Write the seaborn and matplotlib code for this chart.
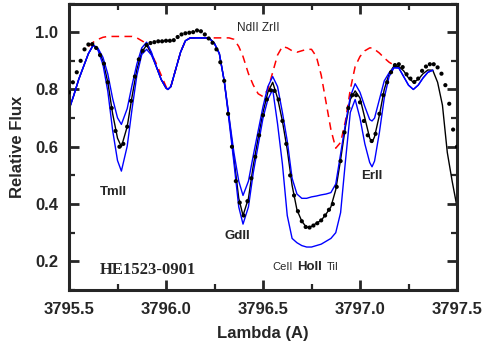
import numpy as np
import pandas as pd
import matplotlib
matplotlib.use("Agg")
import matplotlib.pyplot as plt
from matplotlib.ticker import MultipleLocator, FormatStrFormatter
import seaborn as sns

nan = np.nan

# synthetic spectra wavelength grid (Angstrom)
wl_syn = [3795.500, 3795.525, 3795.550, 3795.575, 3795.600, 3795.625, 3795.650, 3795.675,
          3795.700, 3795.725, 3795.750, 3795.770, 3795.800, 3795.825, 3795.850, 3795.875,
          3795.900, 3795.925, 3795.950, 3795.975, 3796.000, 3796.010, 3796.025, 3796.050,
          3796.075, 3796.100, 3796.125, 3796.150, 3796.175, 3796.200, 3796.225, 3796.250,
          3796.275, 3796.300, 3796.325, 3796.350, 3796.375, 3796.397, 3796.425, 3796.450,
          3796.475, 3796.500, 3796.525, 3796.550, 3796.575, 3796.600, 3796.625, 3796.650,
          3796.675, 3796.700, 3796.725, 3796.750, 3796.775, 3796.800, 3796.825, 3796.850,
          3796.875, 3796.900, 3796.925, 3796.950, 3796.975, 3797.000, 3797.025, 3797.050,
          3797.062, 3797.075, 3797.100, 3797.125, 3797.150, 3797.175, 3797.200, 3797.225,
          3797.250, 3797.275, 3797.300, 3797.325, 3797.350, 3797.375, 3797.400, 3797.425,
          3797.450, 3797.475, 3797.500]

# best-fit synthetic (black)
syn_best = [0.73, 0.78, 0.835, 0.88, 0.925, 0.955, 0.94, 0.90,
            0.825, 0.715, 0.63, 0.60, 0.67, 0.775, 0.87, 0.93,
            0.955, 0.925, 0.88, 0.835, 0.805, 0.80, 0.81, 0.87,
            0.93, 0.97, 0.98, 0.98, 0.98, 0.98, 0.978, 0.96,
            0.925, 0.83, 0.70, 0.56, 0.42, 0.36, 0.42, 0.535,
            0.63, 0.72, 0.79, 0.825, 0.77, 0.69, 0.59, 0.465,
            0.38, 0.34, 0.318, 0.322, 0.333, 0.343, 0.365, 0.39,
            0.45, 0.555, 0.67, 0.765, 0.795, 0.77, 0.70, 0.63,
            0.615, 0.635, 0.71, 0.80, 0.855, 0.882, 0.88, 0.865,
            0.84, 0.825, 0.835, 0.855, 0.868, 0.867, 0.825, 0.745,
            0.58, 0.48, 0.39]

# weaker abundance synthetic (blue, shallower)
syn_low = [0.73, 0.78, 0.835, 0.88, 0.925, 0.955, 0.943, 0.912,
           0.854, 0.768, 0.701, 0.678, 0.733, 0.815, 0.889, 0.945,
           0.965, 0.93, 0.88, 0.835, 0.805, 0.80, 0.81, 0.87,
           0.93, 0.97, 0.98, 0.98, 0.98, 0.98, 0.978, 0.96,
           0.925, 0.83, 0.705, 0.58, 0.48, 0.43, 0.48, 0.57,
           0.655, 0.74, 0.81, 0.845, 0.81, 0.72, 0.62, 0.49,
           0.435, 0.42, 0.42, 0.425, 0.428, 0.432, 0.435, 0.44,
           0.47, 0.575, 0.68, 0.775, 0.82, 0.79, 0.74, 0.695,
           0.69, 0.70, 0.765, 0.83, 0.858, 0.877, 0.875, 0.845,
           0.815, 0.80, 0.815, 0.84, 0.86, 0.867, nan, nan,
           nan, nan, nan]

# stronger abundance synthetic (blue, deeper)
syn_high = [0.73, 0.78, 0.835, 0.88, 0.925, 0.955, 0.936, 0.887,
            0.794, 0.657, 0.552, 0.515, 0.602, 0.732, 0.85, 0.922,
            0.94, 0.92, 0.88, 0.835, 0.805, 0.80, 0.81, 0.87,
            0.93, 0.97, 0.98, 0.98, 0.98, 0.98, 0.978, 0.96,
            0.925, 0.83, 0.69, 0.545, 0.39, 0.33, 0.39, 0.51,
            0.605, 0.70, 0.765, 0.80, 0.68, 0.54, 0.36, 0.28,
            0.265, 0.255, 0.25, 0.25, 0.255, 0.26, 0.27, 0.28,
            0.30, 0.37, 0.55, 0.72, 0.765, 0.70, 0.61, 0.545,
            0.53, 0.55, 0.65, 0.77, 0.845, 0.875, 0.875, 0.845,
            0.815, 0.80, 0.815, 0.84, 0.86, 0.867, nan, nan,
            nan, nan, nan]

# synthetic without the labelled lines (red dashed)
syn_none = [nan, nan, nan, nan, 0.95, 0.965, 0.975, 0.982,
            0.985, 0.985, 0.985, 0.985, 0.985, 0.985, 0.98, 0.97,
            0.96, 0.925, 0.89, 0.85, 0.81, 0.80, 0.81, 0.87,
            0.93, 0.97, 0.98, 0.98, 0.98, 0.98, 0.98, 0.98,
            0.98, 0.98, 0.98, 0.975, 0.95, 0.915, 0.855, 0.815,
            0.785, 0.775, 0.80, 0.86, 0.92, 0.95, 0.945, 0.935,
            0.93, 0.935, 0.94, 0.94, 0.915, 0.85, 0.755, 0.66,
            0.595, 0.615, 0.69, 0.80, 0.88, 0.915, 0.935, 0.945,
            0.945, 0.94, 0.927, 0.91, 0.895, 0.885, nan, nan,
            nan, nan, nan, nan, nan, nan, nan, nan,
            nan, nan, nan]

# observed spectrum (dots)
wl_obs = [round(3795.50 + 0.02 * i, 2) for i in range(101)]
flux_obs = [0.79, 0.825, 0.86, 0.90, 0.94, 0.957, 0.958, 0.945, 0.92, 0.89,
            0.825, 0.735, 0.655, 0.60, 0.61, 0.67, 0.76, 0.845, 0.905, 0.935,
            0.955, 0.962, 0.965, 0.968, 0.968, 0.97, 0.97, 0.972, 0.983, 0.992,
            0.996, 0.998, 1.0, 1.006, 1.003, 0.992, 0.978, 0.963, 0.94, 0.895,
            0.83, 0.715, 0.60, 0.48, 0.405, 0.36, 0.41, 0.49, 0.565, 0.64,
            0.71, 0.765, 0.797, 0.795, 0.765, 0.69, 0.61, 0.50, 0.43, 0.375,
            0.34, 0.32, 0.318, 0.325, 0.333, 0.343, 0.36, 0.38, 0.40, 0.46,
            0.55, 0.65, 0.735, 0.78, 0.78, 0.755, 0.69, 0.64, 0.62, 0.645,
            0.715, 0.78, 0.825, 0.86, 0.885, 0.888, 0.878, 0.853, 0.838, 0.826,
            0.838, 0.865, 0.88, 0.888, 0.888, 0.877, 0.855, 0.815, 0.75, 0.66,
            0.60]

syn = pd.DataFrame({"wl": wl_syn, "best": syn_best, "low": syn_low,
                    "high": syn_high, "none": syn_none})
obs = pd.DataFrame({"wl": wl_obs, "flux": flux_obs})

sns.set_style("ticks")
plt.rcParams["font.family"] = ["Liberation Sans", "DejaVu Sans"]

fig = plt.figure(figsize=(4.84, 3.48), dpi=100)
ax = fig.add_axes([69 / 484, 1 - 290 / 348, 388 / 484, 286.5 / 348])

sns.lineplot(data=syn.dropna(subset=["none"]), x="wl", y="none", ax=ax, color="#ff0000",
             lw=1.1, dashes=False, linestyle=(0, (5, 3.5)), estimator=None, sort=False)
sns.lineplot(data=syn, x="wl", y="best", ax=ax, color="black", lw=1.0,
             estimator=None, sort=False)
sns.lineplot(data=syn.dropna(subset=["low"]), x="wl", y="low", ax=ax, color="#0000ff",
             lw=1.0, estimator=None, sort=False)
sns.lineplot(data=syn.dropna(subset=["high"]), x="wl", y="high", ax=ax, color="#0000ff",
             lw=1.0, estimator=None, sort=False)
sns.scatterplot(data=obs, x="wl", y="flux", ax=ax, color="black", s=9,
                edgecolor="none", zorder=5)

ax.set_xlim(3795.5, 3797.5)
ax.set_ylim(0.1, 1.1)
ax.xaxis.set_major_locator(MultipleLocator(0.5))
ax.xaxis.set_minor_locator(MultipleLocator(0.25))
ax.yaxis.set_major_locator(MultipleLocator(0.2))
ax.yaxis.set_minor_locator(MultipleLocator(0.1))
ax.xaxis.set_major_formatter(FormatStrFormatter("%.1f"))
ax.yaxis.set_major_formatter(FormatStrFormatter("%.1f"))
ax.set_yticks([0.2, 0.4, 0.6, 0.8, 1.0])
ax.tick_params(which="both", direction="in", top=True, right=True)
ax.tick_params(which="major", length=7, width=2, labelsize=12)
ax.tick_params(axis="x", which="major", pad=9)
ax.tick_params(axis="y", which="major", pad=8)
ax.tick_params(which="minor", length=4, width=1.6)
for lab in ax.get_xticklabels() + ax.get_yticklabels():
    lab.set_fontweight("bold")
for sp in ax.spines.values():
    sp.set_linewidth(2.2)
    sp.set_visible(True)

ax.set_xlabel("Lambda (A)", fontsize=12, fontweight="bold", labelpad=6)
ax.set_ylabel("Relative Flux", fontsize=12, fontweight="bold", labelpad=7)

ax.text(3796.477, 1.014, "NdII ZrII", fontsize=8.5, ha="center", va="center")
ax.text(3795.729, 0.442, "TmII", fontsize=9.5, fontweight="bold", ha="center", va="center")
ax.text(3796.369, 0.288, "GdII", fontsize=9.5, fontweight="bold", ha="center", va="center")
ax.text(3797.062, 0.498, "ErII", fontsize=9.5, fontweight="bold", ha="center", va="center")
ax.text(3795.905, 0.170, "HE1523-0901", fontsize=12, fontweight="bold",
        family=["Liberation Serif", "DejaVu Serif"], ha="center", va="center")
ax.text(3796.603, 0.182, "CeII", fontsize=8, ha="center", va="center")
ax.text(3796.742, 0.182, "HoII", fontsize=9.5, fontweight="bold", ha="center", va="center")
ax.text(3796.858, 0.182, "TiI", fontsize=8, ha="center", va="center")

fig.savefig("out.png", dpi=100)
